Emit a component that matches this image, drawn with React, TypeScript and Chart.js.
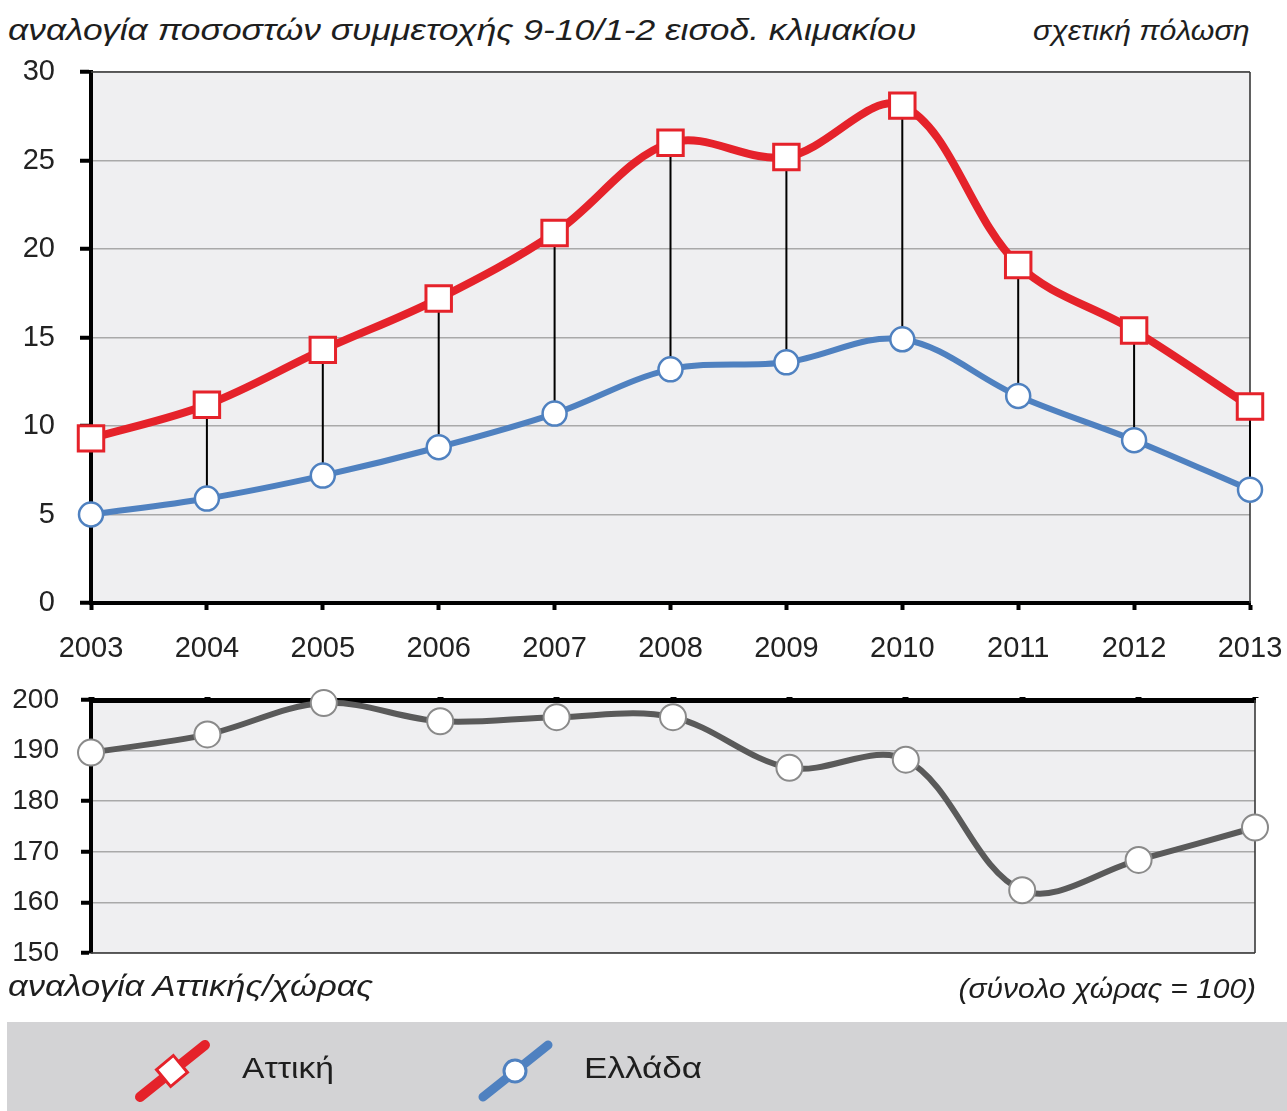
import React, { useEffect, useRef } from "react";
import { Chart, registerables } from "chart.js";

Chart.register(...registerables);

const years = ["2003", "2004", "2005", "2006", "2007", "2008", "2009", "2010", "2011", "2012", "2013"];
const attiki = [9.3, 11.2, 14.3, 17.2, 20.9, 26.0, 25.2, 28.1, 19.1, 15.4, 11.1];
const ellada = [5.0, 5.9, 7.2, 8.8, 10.7, 13.2, 13.6, 14.9, 11.7, 9.2, 6.4];
const ratio = [189.6, 193.2, 199.4, 195.8, 196.6, 196.6, 186.6, 188.2, 162.4, 168.4, 174.8];

const FONT = "'Liberation Sans', Arial, sans-serif";
const RED = "#e5222a";
const BLUE = "#4f81c0";
const GRAY_LINE = "#5a5a5a";
const PLOT_BG = "#efeff1";
const GRID = "#a9a9a9";

const bgPlugin = {
  id: "bgPlugin",
  beforeDraw(chart: any) {
    const { ctx, chartArea } = chart;
    ctx.save();
    ctx.fillStyle = PLOT_BG;
    ctx.fillRect(chartArea.left, chartArea.top, chartArea.right - chartArea.left, chartArea.bottom - chartArea.top);
    ctx.restore();
  },
  beforeDatasetsDraw(chart: any, _args: any, opts: any) {
    const { ctx, chartArea } = chart;
    ctx.save();
    ctx.strokeStyle = "#3a3a3a";
    ctx.lineWidth = 1.6;
    ctx.beginPath();
    const sides: string[] = (opts && opts.sides) || [];
    if (sides.includes("top")) {
      ctx.moveTo(chartArea.left, chartArea.top);
      ctx.lineTo(chartArea.right, chartArea.top);
    }
    if (sides.includes("right")) {
      ctx.moveTo(chartArea.right, chartArea.top);
      ctx.lineTo(chartArea.right, chartArea.bottom);
    }
    if (sides.includes("bottom")) {
      ctx.moveTo(chartArea.left, chartArea.bottom);
      ctx.lineTo(chartArea.right, chartArea.bottom);
    }
    ctx.stroke();
    ctx.restore();
  },
};

const dropLinePlugin = {
  id: "dropLines",
  beforeDatasetsDraw(chart: any) {
    const { ctx, scales } = chart;
    const xs = scales.x;
    const ys = scales.y;
    ctx.save();
    ctx.strokeStyle = "#000";
    ctx.lineWidth = 2;
    ctx.beginPath();
    for (let i = 0; i < years.length; i++) {
      const x = xs.getPixelForValue(i);
      ctx.moveTo(x, ys.getPixelForValue(attiki[i]));
      ctx.lineTo(x, ys.getPixelForValue(ellada[i]));
    }
    ctx.stroke();
    ctx.restore();
  },
};

function TopChart() {
  const ref = useRef<HTMLCanvasElement>(null);
  useEffect(() => {
    if (!ref.current) return;
    const chart = new Chart(ref.current, {
      type: "line",
      data: {
        labels: years,
        datasets: [
          {
            label: "Αττική",
            data: attiki,
            borderColor: RED,
            borderWidth: 8,
            tension: 0.35,
            pointStyle: "rect",
            pointRadius: 18,
            pointBorderWidth: 3,
            pointBorderColor: RED,
            pointBackgroundColor: "#ffffff",
            clip: false as any,
            order: 1,
          },
          {
            label: "Ελλάδα",
            data: ellada,
            borderColor: BLUE,
            borderWidth: 6,
            tension: 0.35,
            pointStyle: "circle",
            pointRadius: 12,
            pointBorderWidth: 2.5,
            pointBorderColor: BLUE,
            pointBackgroundColor: "#ffffff",
            clip: false as any,
            order: 2,
          },
        ],
      },
      options: {
        responsive: false,
        animation: false,
        devicePixelRatio: 1,
        layout: { padding: { top: 72, right: 37, left: 0, bottom: 0 } },
        plugins: {
          legend: { display: false },
          tooltip: { enabled: false },
          bgPlugin: { sides: ["top", "right"] },
        } as any,
        scales: {
          x: {
            offset: false,
            grid: { drawOnChartArea: false, tickLength: 7, tickWidth: 4, tickColor: "#000" },
            border: { color: "#000", width: 4 },
            ticks: { font: { family: FONT, size: 29 }, color: "#222", padding: 22, maxRotation: 0, autoSkip: false },
            afterFit(scale: any) {
              scale.height = 77;
              scale.paddingLeft = 0;
              scale.paddingRight = 0;
            },
          },
          y: {
            min: 0,
            max: 30,
            ticks: { stepSize: 5, font: { family: FONT, size: 29 }, color: "#222", padding: 25 },
            grid: { color: GRID, lineWidth: 1.5, tickLength: 11, tickWidth: 4, tickColor: "#000" },
            border: { color: "#000", width: 4 },
            afterFit(scale: any) {
              scale.width = 91;
              scale.paddingTop = 0;
              scale.paddingBottom = 0;
            },
          },
        },
      },
      plugins: [bgPlugin, dropLinePlugin],
    });
    return () => chart.destroy();
  }, []);
  return (
    <canvas
      ref={ref}
      width={1287}
      height={680}
      style={{ position: "absolute", left: 0, top: 0, width: 1287, height: 680 }}
    />
  );
}

function BottomChart() {
  const ref = useRef<HTMLCanvasElement>(null);
  useEffect(() => {
    if (!ref.current) return;
    const chart = new Chart(ref.current, {
      type: "line",
      data: {
        labels: years,
        datasets: [
          {
            label: "αναλογία Αττικής/χώρας",
            data: ratio,
            borderColor: GRAY_LINE,
            borderWidth: 6,
            tension: 0.35,
            pointStyle: "circle",
            pointRadius: 13,
            pointBorderWidth: 2,
            pointBorderColor: "#8a8a8a",
            pointBackgroundColor: "#ffffff",
            clip: false as any,
          },
        ],
      },
      options: {
        responsive: false,
        animation: false,
        devicePixelRatio: 1,
        layout: { padding: { top: 10, right: 32, left: 0, bottom: 27 } },
        plugins: {
          legend: { display: false },
          tooltip: { enabled: false },
          bgPlugin: { sides: ["right", "bottom"] },
        } as any,
        scales: {
          x: {
            position: "top",
            offset: false,
            grid: { drawOnChartArea: false, tickLength: 3, tickWidth: 6, tickColor: "#000" },
            border: { color: "#000", width: 5 },
            ticks: { display: false },
            afterFit(scale: any) {
              scale.height = 10;
              scale.paddingLeft = 0;
              scale.paddingRight = 0;
            },
          },
          y: {
            min: 150,
            max: 200,
            ticks: { stepSize: 10, font: { family: FONT, size: 28 }, color: "#222", padding: 22 },
            grid: { color: GRID, lineWidth: 1.5, tickLength: 10, tickWidth: 4, tickColor: "#000" },
            border: { color: "#000", width: 4 },
            afterFit(scale: any) {
              scale.width = 91;
              scale.paddingTop = 0;
              scale.paddingBottom = 0;
            },
          },
        },
      },
      plugins: [bgPlugin],
    });
    return () => chart.destroy();
  }, []);
  return (
    <canvas
      ref={ref}
      width={1287}
      height={300}
      style={{ position: "absolute", left: 0, top: 680, width: 1287, height: 300 }}
    />
  );
}

const textBase: React.CSSProperties = {
  position: "absolute",
  fontFamily: FONT,
  color: "#1e1e1e",
  whiteSpace: "nowrap",
  lineHeight: 1,
};

export default function App() {
  return (
    <div
      style={{
        position: "absolute",
        left: 0,
        top: 0,
        width: 1287,
        height: 1111,
        overflow: "hidden",
        background: "#ffffff",
      }}
    >
      <div
        style={{
          ...textBase,
          left: 8,
          top: 15,
          fontSize: 30,
          fontStyle: "italic",
          transform: "scaleX(1.18)",
          transformOrigin: "left center",
        }}
      >
        αναλογία ποσοστών συμμετοχής 9-10/1-2 εισοδ. κλιμακίου
      </div>
      <div
        style={{
          ...textBase,
          right: 1287 - 1249,
          top: 17,
          fontSize: 28,
          fontStyle: "italic",
          transform: "scaleX(1.08)",
          transformOrigin: "right center",
        }}
      >
        σχετική πόλωση
      </div>
      <TopChart />
      <BottomChart />
      <div
        style={{
          ...textBase,
          left: 8,
          top: 971,
          fontSize: 30,
          fontStyle: "italic",
          transform: "scaleX(1.15)",
          transformOrigin: "left center",
        }}
      >
        αναλογία Αττικής/χώρας
      </div>
      <div
        style={{
          ...textBase,
          right: 1287 - 1256,
          top: 975,
          fontSize: 28,
          fontStyle: "italic",
          transform: "scaleX(1.07)",
          transformOrigin: "right center",
        }}
      >
        (σύνολο χώρας = 100)
      </div>
      <div
        style={{
          position: "absolute",
          left: 7,
          top: 1022,
          width: 1280,
          height: 89,
          background: "#d3d3d5",
        }}
      />
      <svg
        width={1287}
        height={1111}
        style={{ position: "absolute", left: 0, top: 0, pointerEvents: "none" }}
      >
        <line x1={140} y1={1097} x2={205} y2={1045} stroke={RED} strokeWidth={10} strokeLinecap="round" />
        <rect
          x={172 - 11}
          y={1071 - 11}
          width={22}
          height={22}
          fill="#ffffff"
          stroke={RED}
          strokeWidth={3}
          transform={`rotate(-40 172 1071)`}
        />
        <line x1={483} y1={1097} x2={548} y2={1045} stroke={BLUE} strokeWidth={9} strokeLinecap="round" />
        <circle cx={515} cy={1071} r={11} fill="#ffffff" stroke={BLUE} strokeWidth={3} />
      </svg>
      <div
        style={{
          ...textBase,
          left: 242,
          top: 1053,
          fontSize: 30,
          transform: "scaleX(1.12)",
          transformOrigin: "left center",
        }}
      >
        Αττική
      </div>
      <div
        style={{
          ...textBase,
          left: 584,
          top: 1053,
          fontSize: 30,
          transform: "scaleX(1.17)",
          transformOrigin: "left center",
        }}
      >
        Ελλάδα
      </div>
    </div>
  );
}
